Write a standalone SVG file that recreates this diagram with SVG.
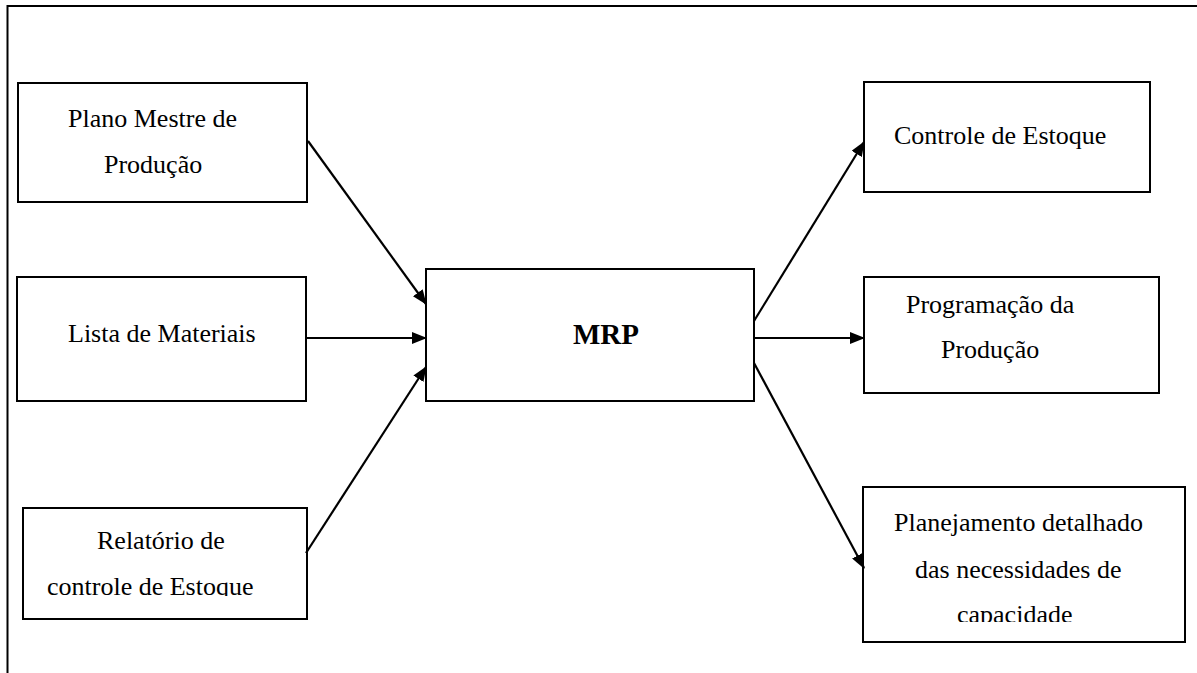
<svg xmlns="http://www.w3.org/2000/svg" width="1197" height="673" viewBox="0 0 1197 673">
<style>
.box{fill:#fff;stroke:#000;stroke-width:2}
.t{font-family:"Liberation Serif","Times New Roman",serif;font-size:26px;fill:#000}
.b{font-family:"Liberation Serif","Times New Roman",serif;font-size:29px;font-weight:bold;fill:#000}
.c{stroke:#000;stroke-width:2.2;fill:none;marker-end:url(#ah)}
</style>
<defs>
<marker id="ah" markerWidth="15" markerHeight="12" refX="14" refY="6" orient="auto" markerUnits="userSpaceOnUse" viewBox="0 0 15 12">
<path d="M0,0 L15,6 L0,12 Z" fill="#000"/>
</marker>
<clipPath id="clipRel"><rect x="23" y="508" width="284" height="88"/></clipPath>
<clipPath id="clipPlan"><rect x="863" y="487" width="322" height="135"/></clipPath>
</defs>
<path d="M7.5,673 V6 H1197" fill="none" stroke="#000" stroke-width="2"/>
<g id="plano">
<rect class="box" x="18" y="83" width="289" height="119"/>
<text class="t" x="68" y="127">Plano Mestre de</text>
<text class="t" x="104" y="173">Produção</text>
</g>
<g id="lista">
<rect class="box" x="17" y="277" width="289" height="124"/>
<text class="t" x="68" y="342">Lista de Materiais</text>
</g>
<g id="relatorio">
<rect class="box" x="23" y="508" width="284" height="111"/>
<g clip-path="url(#clipRel)">
<text class="t" x="97" y="549">Relatório de</text>
<text class="t" x="47" y="595">controle de Estoque</text>
</g>
</g>
<g id="mrp">
<rect class="box" x="426" y="269" width="328" height="132"/>
<text class="b" x="573" y="344">MRP</text>
</g>
<g id="controle">
<rect class="box" x="864" y="82" width="286" height="110"/>
<text class="t" x="894" y="144">Controle de Estoque</text>
</g>
<g id="programacao">
<rect class="box" x="864" y="277" width="295" height="116"/>
<text class="t" x="906" y="313">Programação da</text>
<text class="t" x="941" y="358">Produção</text>
</g>
<g id="planejamento">
<rect class="box" x="863" y="487" width="322" height="155"/>
<g clip-path="url(#clipPlan)">
<text class="t" x="894" y="531">Planejamento detalhado</text>
<text class="t" x="915" y="578">das necessidades de</text>
<text class="t" x="957" y="623">capacidade</text>
</g>
</g>
<g id="connectors">
<line class="c" x1="308" y1="141" x2="426" y2="304"/>
<line class="c" x1="307" y1="338" x2="426" y2="338"/>
<line class="c" x1="306" y1="553" x2="426" y2="367"/>
<line class="c" x1="754" y1="321" x2="864" y2="142"/>
<line class="c" x1="754" y1="338" x2="864" y2="338"/>
<line class="c" x1="754" y1="363" x2="864" y2="568"/>
</g>
</svg>
